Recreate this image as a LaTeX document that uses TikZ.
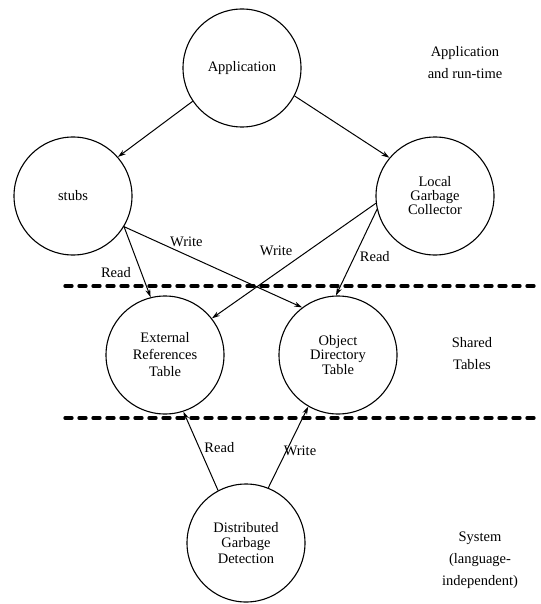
\documentclass[tikz,border=0pt]{standalone}
\usepackage{fontspec}
\setmainfont{Liberation Serif}
\usetikzlibrary{arrows.meta}
\begin{document}
\begin{tikzpicture}[x=1pt,y=-1pt,
        proc/.style={draw,circle,line width=1.1pt,minimum size=118pt,inner sep=0pt,align=center,font=\fontsize{14.5}{15.5}\selectfont},
        flow/.style={line width=1pt,-{Stealth[length=8pt,width=5pt]}},
        lbl/.style={font=\fontsize{14.5}{16}\selectfont,inner sep=1pt},
        layer/.style={align=center,font=\fontsize{14.5}{22}\selectfont},
        divider/.style={line width=3.3pt,dash pattern=on 7pt off 7pt,line cap=round}]
        \useasboundingbox (0,0) rectangle (540,604);
        %% Processes and tables
        \node[proc] (App) at (242,68) {Application};
        \node[proc] (Stubs) at (73,196) {stubs};
        \node[proc,font=\fontsize{14.5}{14}\selectfont] (LGC) at (435,196) {Local\\Garbage\\Collector};
        \node[proc,font=\fontsize{14.5}{17}\selectfont] (ERT) at (165,355) {External\\References\\Table};
        \node[proc,font=\fontsize{14.5}{14.5}\selectfont] (ODT) at (338,355) {Object\\Directory\\Table};
        \node[proc] (DGD) at (246,543) {Distributed\\Garbage\\Detection};
        %% Layers
        \node[layer] (L1) at (465,63) {Application\\and run-time};
        \node[layer] (L2) at (472,354) {Shared\\Tables};
        \node[layer] (L3) at (480,560) {System\\(language-\\independent)};
        \coordinate (D1a) at (65,286);
        \coordinate (D1b) at (540,286);
        \coordinate (D2a) at (65,418);
        \coordinate (D2b) at (540,418);
        \draw[divider] (D1a) -- (D1b);
        \draw[divider] (D2a) -- (D2b);
        %% Flows
        \draw[flow] (App.-146) -- (Stubs.41);
        \draw[flow] (App.-28) -- (LGC.140);
        \draw[flow] (Stubs.-31) -- (ERT.104) node[lbl,pos=0.65,left=9pt] {Read};
        \draw[flow] (Stubs.-31) -- (ODT.127) node[lbl,pos=0.35,above=7pt] {Write};
        \draw[flow] (LGC.-173) -- (ERT.38) node[lbl,pos=0.5,anchor=south east,yshift=4pt] {Write};
        \draw[flow] (LGC.-167) -- (ODT.92) node[lbl,pos=0.55,right=4pt] {Read};
        \draw[flow] (DGD.118) -- (ERT.-72) node[lbl,pos=0.55,right=4pt] {Read};
        \draw[flow] (DGD.68) -- (ODT.-120) node[lbl,pos=0.45,anchor=west,inner sep=0pt,xshift=-3pt] {Write};
    \end{tikzpicture}
\end{document}
